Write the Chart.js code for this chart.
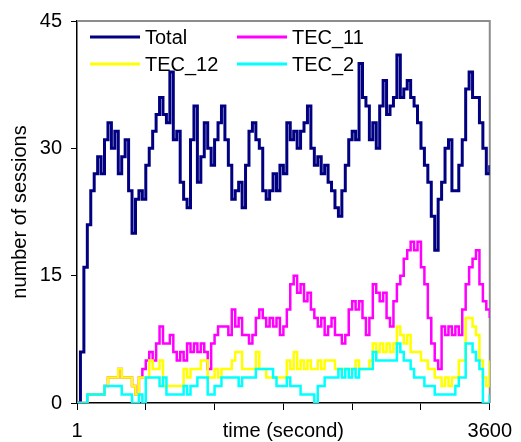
<!DOCTYPE html>
<html>
<head>
<meta charset="utf-8">
<script src="https://cdn.jsdelivr.net/npm/chart.js@4.4.0/dist/chart.umd.min.js"></script>
<style>
  html, body { margin: 0; padding: 0; background: #fff; }
  #wrap { width: 521px; height: 442px; }
</style>
</head>
<body>
<div id="wrap"><canvas id="sessions-chart" width="521" height="442"></canvas></div>
<script>
// sample times (seconds), one every 30 s
const time = [
  0, 30, 60, 90, 120, 150, 180, 210, 240, 270, 300, 330, 360, 390, 420, 450, 480, 510, 540, 570,
  600, 630, 660, 690, 720, 750, 780, 810, 840, 870, 900, 930, 960, 990, 1020, 1050, 1080, 1110, 1140, 1170,
  1200, 1230, 1260, 1290, 1320, 1350, 1380, 1410, 1440, 1470, 1500, 1530, 1560, 1590, 1620, 1650, 1680, 1710, 1740, 1770,
  1800, 1830, 1860, 1890, 1920, 1950, 1980, 2010, 2040, 2070, 2100, 2130, 2160, 2190, 2220, 2250, 2280, 2310, 2340, 2370,
  2400, 2430, 2460, 2490, 2520, 2550, 2580, 2610, 2640, 2670, 2700, 2730, 2760, 2790, 2820, 2850, 2880, 2910, 2940, 2970,
  3000, 3030, 3060, 3090, 3120, 3150, 3180, 3210, 3240, 3270, 3300, 3330, 3360, 3390, 3420, 3450, 3480, 3510, 3540, 3570,
  3600
];

const total = [
  0, 6, 16, 21, 25, 27, 29, 27, 31, 33, 30, 32, 27, 29, 31, 25, 20, 24, 25, 24,
  28, 30, 32, 34, 36, 34, 33, 39, 31, 32, 26, 24, 23, 31, 35, 26, 29, 33, 30, 28,
  31, 33, 35, 31, 28, 24, 25, 26, 23, 28, 32, 33, 31, 30, 25, 24, 25, 27, 25, 28,
  27, 33, 31, 32, 30, 32, 33, 35, 30, 28, 29, 27, 28, 26, 25, 23, 22, 25, 28, 31,
  32, 31, 40, 36, 35, 31, 33, 30, 35, 38, 34, 35, 36, 41, 36, 37, 38, 36, 35, 33,
  30, 28, 26, 22, 18, 24, 26, 30, 31, 25, 25, 28, 31, 37, 39, 36, 36, 33, 30, 27,
  28
];

const tec11 = [
  0, 0, 0, 1, 1, 1, 1, 1, 2, 3, 3, 3, 4, 3, 3, 3, 2, 1, 3, 4,
  5, 6, 5, 7, 9, 7, 7, 8, 6, 5, 6, 5, 7, 6, 7, 6, 7, 6, 4, 7,
  8, 9, 9, 9, 8, 11, 9, 10, 8, 8, 7, 8, 10, 11, 10, 9, 10, 9, 10, 8,
  9, 11, 14, 15, 13, 14, 12, 13, 11, 10, 9, 10, 8, 9, 10, 8, 8, 7, 8, 11,
  12, 11, 12, 10, 8, 10, 14, 13, 12, 13, 10, 9, 12, 14, 15, 17, 18, 19, 18, 19,
  16, 14, 10, 7, 5, 4, 9, 8, 9, 8, 9, 8, 11, 14, 16, 17, 18, 14, 12, 11,
  10
];

const tec12 = [
  0, 0, 0, 1, 1, 1, 1, 1, 2, 3, 3, 3, 4, 3, 3, 3, 2, 1, 3, 3,
  3, 5, 4, 4, 5, 2, 2, 2, 2, 2, 2, 4, 3, 4, 4, 4, 5, 5, 3, 3,
  4, 3, 4, 4, 4, 5, 6, 6, 4, 4, 4, 4, 6, 4, 4, 3, 3, 3, 3, 3,
  3, 5, 4, 6, 4, 5, 4, 5, 4, 4, 5, 4, 5, 5, 5, 4, 4, 4, 4, 4,
  4, 5, 4, 4, 4, 5, 7, 6, 7, 6, 7, 6, 7, 9, 8, 7, 8, 6, 6, 6,
  5, 5, 4, 4, 3, 3, 2, 3, 2, 3, 3, 5, 5, 10, 10, 9, 8, 5, 3, 2,
  5
];

const tec2 = [
  0, 0, 0, 1, 1, 1, 1, 1, 2, 2, 2, 2, 2, 1, 1, 1, 0, 0, 1, 0,
  3, 3, 3, 3, 2, 3, 1, 1, 1, 1, 1, 2, 1, 2, 2, 3, 3, 3, 1, 1,
  2, 2, 3, 3, 3, 3, 3, 2, 3, 3, 3, 3, 4, 4, 4, 4, 4, 3, 2, 2,
  2, 3, 2, 2, 2, 1, 1, 1, 1, 0, 2, 2, 3, 3, 3, 3, 4, 3, 4, 3,
  4, 3, 4, 4, 4, 4, 6, 5, 5, 5, 5, 5, 5, 7, 6, 5, 5, 4, 3, 3,
  3, 2, 2, 2, 1, 1, 1, 1, 1, 1, 2, 3, 3, 7, 7, 6, 5, 4, 0, 0,
  1
];

const seriesNames = ['Total', 'TEC_11', 'TEC_12', 'TEC_2'];
const seriesColors = ['#000080', '#FF00FF', '#FFFF00', '#00FFFF'];
const yTicks = [0, 15, 30, 45];
const xTickLabels = { 0: '1', 1800: 'time (second)', 3600: '3600' };

(function() {
  const FONT = "'Liberation Sans', Arial, sans-serif";
  Chart.defaults.font.family = FONT;
  Chart.defaults.color = '#000';

  function points(values) {
    return values.map((v, i) => ({ x: time[i], y: v }));
  }

  // legend drawn inside the plot, two columns
  const insideLegend = {
    id: 'insideLegend',
    afterDatasetsDraw(chart) {
      const ctx = chart.ctx;
      const area = chart.chartArea;
      const slots = [
        { dx: 13, dy: 16 }, { dx: 160, dy: 16 },
        { dx: 13, dy: 43 }, { dx: 160, dy: 43 }
      ];
      ctx.save();
      ctx.font = '20px ' + FONT;
      ctx.textBaseline = 'middle';
      chart.data.datasets.forEach((ds, i) => {
        const x = area.left + slots[i].dx;
        const y = area.top + slots[i].dy;
        ctx.strokeStyle = ds.borderColor;
        ctx.lineWidth = 3;
        ctx.beginPath();
        ctx.moveTo(x, y);
        ctx.lineTo(x + 50, y);
        ctx.stroke();
        ctx.fillStyle = '#000';
        ctx.fillText(ds.label, x + 55, y + 1);
      });
      ctx.restore();
    }
  };

  // grey plot-area frame on top and right
  const plotFrame = {
    id: 'plotFrame',
    beforeDatasetsDraw(chart) {
      const ctx = chart.ctx;
      const a = chart.chartArea;
      ctx.save();
      ctx.strokeStyle = '#8c8c8c';
      ctx.lineWidth = 2;
      ctx.beginPath();
      ctx.moveTo(a.left, a.top);
      ctx.lineTo(a.right, a.top);
      ctx.lineTo(a.right, a.bottom);
      ctx.stroke();
      ctx.restore();
    }
  };

  const seriesData = [total, tec11, tec12, tec2];
  const drawOrder = [3, 2, 1, 0];

  new Chart(document.getElementById('sessions-chart'), {
    type: 'line',
    data: {
      datasets: seriesData.map((vals, i) => ({
        label: seriesNames[i],
        data: points(vals),
        borderColor: seriesColors[i],
        backgroundColor: seriesColors[i],
        borderWidth: i === 0 ? 3 : 2.5,
        pointRadius: 0,
        stepped: true,
        fill: false,
        order: drawOrder[i]
      }))
    },
    options: {
      responsive: false,
      animation: false,
      layout: { padding: { top: 19, right: 24, left: 0, bottom: 0 } },
      plugins: {
        legend: { display: false },
        tooltip: { enabled: false }
      },
      scales: {
        x: {
          type: 'linear',
          min: 0,
          max: 3600,
          afterFit: s => { s.height = 39; },
          afterBuildTicks: s => {
            s.ticks = [0, 600, 1200, 1800, 2400, 3000, 3600].map(v => ({ value: v }));
          },
          ticks: {
            autoSkip: false,
            maxRotation: 0,
            minRotation: 0,
            padding: 9,
            font: { size: 20 },
            color: '#000',
            callback: v => xTickLabels[v] !== undefined ? xTickLabels[v] : ''
          },
          grid: { drawOnChartArea: false, drawTicks: true, tickLength: 7, color: '#000' },
          border: { display: true, color: '#000', width: 1.5 }
        },
        y: {
          min: 0,
          max: 45,
          afterFit: s => { s.width = 77; },
          afterBuildTicks: s => {
            s.ticks = yTicks.map(v => ({ value: v }));
          },
          ticks: {
            padding: 9,
            font: { size: 20 },
            color: '#000'
          },
          title: {
            display: true,
            text: 'number of sessions',
            font: { size: 20 },
            color: '#000',
            padding: { top: 8, bottom: 0 }
          },
          grid: { drawOnChartArea: false, drawTicks: true, tickLength: 6, color: '#000' },
          border: { display: true, color: '#000', width: 1.5 }
        }
      }
    },
    plugins: [plotFrame, insideLegend]
  });
})();
</script>
</body>
</html>
